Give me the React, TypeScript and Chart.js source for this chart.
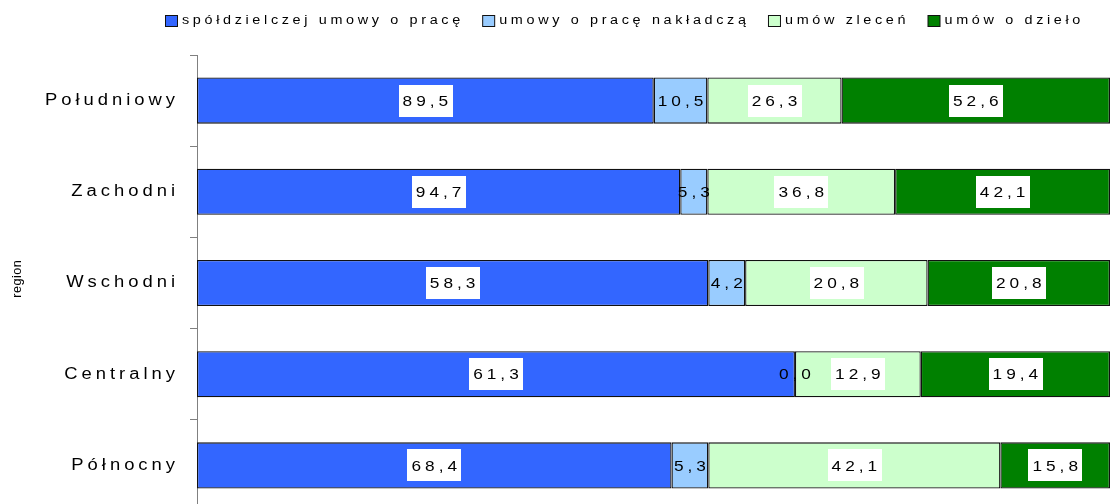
import { useEffect, useRef } from 'react';
import { Chart, registerables } from 'chart.js';

Chart.register(...registerables);

const categories = ['Południowy', 'Zachodni', 'Wschodni', 'Centralny', 'Północny'];
const seriesNames = [
  'spółdzielczej umowy o pracę',
  'umowy o pracę nakładczą',
  'umów zleceń',
  'umów o dzieło',
];
const spoldzielczej = [89.5, 94.7, 58.3, 61.3, 68.4];
const nakladcza = [10.5, 5.3, 4.2, 0.0, 5.3];
const zlecen = [26.3, 36.8, 20.8, 12.9, 42.1];
const dzielo = [52.6, 42.1, 20.8, 19.4, 15.8];
const seriesColors = ['#3366FF', '#99CCFF', '#CCFFCC', '#008000'];
const axisTitle = 'region';

const FONT = '"Liberation Sans", Arial, Helvetica, sans-serif';

function measureStretched(ctx: CanvasRenderingContext2D, text: string, size: number, sx: number, sp: number) {
  ctx.save();
  ctx.font = `${size}px ${FONT}`;
  (ctx as any).letterSpacing = `${sp / sx}px`;
  const w = (ctx.measureText(text).width - sp / sx) * sx;
  ctx.restore();
  return w;
}

function drawStretched(
  ctx: CanvasRenderingContext2D,
  text: string,
  x: number,
  y: number,
  size: number,
  sx: number,
  sp: number,
  align: 'left' | 'center' | 'right',
) {
  const w = measureStretched(ctx, text, size, sx, sp);
  const left = align === 'right' ? x - w : align === 'center' ? x - w / 2 : x;
  ctx.save();
  ctx.font = `${size}px ${FONT}`;
  (ctx as any).letterSpacing = `${sp / sx}px`;
  ctx.textBaseline = 'middle';
  ctx.textAlign = 'left';
  ctx.translate(left, y);
  ctx.scale(sx, 1);
  ctx.fillText(text, 0, 0);
  ctx.restore();
  return w;
}

export default function App() {
  const ref = useRef<HTMLCanvasElement | null>(null);

  useEffect(() => {
    const canvas = ref.current;
    if (!canvas) return;
    const series = [spoldzielczej, nakladcza, zlecen, dzielo];
    const totals = categories.map((_, j) => series.reduce((s, arr) => s + arr[j], 0));

    const datasets = series.map((vals, i) => ({
      label: seriesNames[i],
      data: vals.map((v, j) => (v / totals[j]) * 100),
      rawValues: vals,
      backgroundColor: seriesColors[i],
      borderColor: '#111111',
      borderWidth: 1.3,
      borderSkipped: false as const,
      categoryPercentage: 1,
      barPercentage: 0.505,
    }));

    const labelsPlugin = {
      id: 'valueLabels',
      afterDatasetsDraw(chart: any) {
        const ctx = chart.ctx as CanvasRenderingContext2D;
        chart.data.datasets.forEach((ds: any, di: number) => {
          const meta = chart.getDatasetMeta(di);
          meta.data.forEach((el: any, j: number) => {
            const raw = ds.rawValues[j] as number;
            const text = raw.toFixed(1).replace('.', ',');
            const left = Math.min(el.x, el.base);
            const right = Math.max(el.x, el.base);
            const cx = (left + right) / 2;
            const w = measureStretched(ctx, text, 15, 1.15, 4);
            const boxW = w + 8;
            const boxH = 32;
            if (right - left >= boxW + 8) {
              ctx.save();
              ctx.fillStyle = '#FFFFFF';
              ctx.fillRect(Math.round(cx - boxW / 2), Math.round(el.y - boxH / 2), Math.round(boxW), boxH);
              ctx.restore();
            }
            ctx.fillStyle = '#000000';
            drawStretched(ctx, text, cx, el.y + 1, 15, 1.15, 4, 'center');
          });
        });
      },
    };

    const textPlugin = {
      id: 'texts',
      afterDraw(chart: any) {
        const ctx = chart.ctx as CanvasRenderingContext2D;
        // legend
        let x = 165;
        const cy = 21;
        seriesNames.forEach((name, i) => {
          ctx.save();
          ctx.fillStyle = seriesColors[i];
          ctx.fillRect(x + 0.5, cy - 5.5, 12, 11);
          ctx.strokeStyle = '#111111';
          ctx.lineWidth = 1;
          ctx.strokeRect(x + 0.5, cy - 5.5, 12, 11);
          ctx.restore();
          ctx.fillStyle = '#000000';
          const w = drawStretched(ctx, name, x + 17, cy, 12, 1.2, 3.65, 'left');
          x = x + 17 + w + 22;
        });
        // category labels
        const yScale = chart.scales.y;
        categories.forEach((c, i) => {
          ctx.fillStyle = '#000000';
          drawStretched(ctx, c, 175, yScale.getPixelForValue(i), 16, 1.15, 4, 'right');
        });
        // axis title
        ctx.save();
        ctx.translate(18, (chart.chartArea.top + chart.chartArea.bottom) / 2 - 4);
        ctx.rotate(-Math.PI / 2);
        ctx.fillStyle = '#000000';
        drawStretched(ctx, axisTitle, 0, 0, 12, 1.05, 0.5, 'center');
        ctx.restore();
      },
    };

    const chart = new Chart(canvas, {
      type: 'bar',
      data: { labels: categories, datasets: datasets as any },
      options: {
        indexAxis: 'y',
        responsive: false,
        animation: false,
        layout: { autoPadding: false, padding: { top: 55, right: 2, left: 0, bottom: 0 } },
        scales: {
          x: { stacked: true, min: 0, max: 100, display: false },
          y: {
            stacked: true,
            afterFit: (s: any) => {
              s.width = 197;
            },
            grid: {
              display: true,
              drawOnChartArea: false,
              drawTicks: true,
              tickLength: 7,
              color: '#808080',
              offset: true,
            },
            border: { display: true, color: '#808080', width: 1 },
            ticks: { display: false },
          },
        },
        plugins: {
          legend: { display: false },
          tooltip: { enabled: false },
        },
      },
      plugins: [labelsPlugin, textPlugin],
    });

    return () => chart.destroy();
  }, []);

  return (
    <div style={{ position: 'absolute', left: 0, top: 0 }}>
      <canvas ref={ref} width={1112} height={511} style={{ width: 1112, height: 511, display: 'block' }} />
    </div>
  );
}
